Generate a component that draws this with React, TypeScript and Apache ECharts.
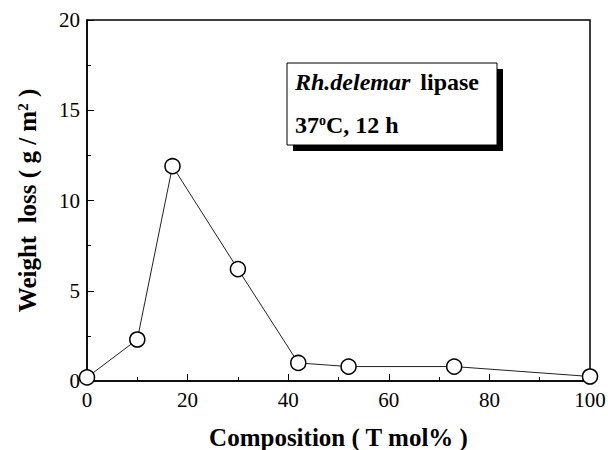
import React, { useEffect, useRef } from "react";
import * as echarts from "echarts";

const composition = [0, 10, 17, 30, 42, 52, 73, 100];
const weightLoss = [0.2, 2.3, 11.9, 6.2, 1.0, 0.8, 0.8, 0.25];
const xTicks = [0, 20, 40, 60, 80, 100];
const yTicks = [0, 5, 10, 15, 20];

const FONT = "Liberation Serif";

export default function App() {
  const ref = useRef<HTMLDivElement>(null);
  useEffect(() => {
    if (!ref.current) return;
    const chart = echarts.init(ref.current, undefined, { renderer: "svg" });
    chart.setOption({
      animation: false,
      backgroundColor: "#fff",
      textStyle: { fontFamily: FONT },
      grid: {
        left: 87,
        right: 18,
        top: 20,
        bottom: 69,
        show: true,
        borderColor: "#000",
        borderWidth: 1.5,
        outerBoundsMode: "none",
        containLabel: false,
      },
      xAxis: {
        type: "value",
        min: xTicks[0],
        max: xTicks[xTicks.length - 1],
        interval: 20,
        name: "Composition ( T mol% )",
        nameLocation: "middle",
        nameGap: 44,
        nameTextStyle: { fontFamily: FONT, fontWeight: "bold", fontSize: 25, color: "#000" },
        axisLine: { show: true, lineStyle: { color: "#000", width: 1.5 } },
        axisTick: { show: true, inside: true, length: 7, lineStyle: { color: "#000", width: 1 } },
        minorTick: { show: true, splitNumber: 2, length: 4, lineStyle: { color: "#000", width: 1 } },
        axisLabel: { fontFamily: FONT, fontSize: 21, color: "#000", margin: 8 },
        splitLine: { show: false },
      },
      yAxis: {
        type: "value",
        min: yTicks[0],
        max: yTicks[yTicks.length - 1],
        interval: 5,
        name: "{t|Weight  loss ( g / m}{s|2}{t| )}",
        nameLocation: "middle",
        nameGap: 47,
        nameRotate: 90,
        nameTextStyle: {
          fontFamily: FONT,
          color: "#000",
          rich: {
            t: { fontFamily: FONT, fontWeight: "bold", fontSize: 25, color: "#000" },
            s: { fontFamily: FONT, fontWeight: "bold", fontSize: 15, color: "#000", verticalAlign: "top", padding: [0, 0, 10, 0] },
          },
        },
        axisLine: { show: true, lineStyle: { color: "#000", width: 1.5 } },
        axisTick: { show: true, inside: true, length: 7, lineStyle: { color: "#000", width: 1 } },
        minorTick: { show: true, splitNumber: 2, length: 4, lineStyle: { color: "#000", width: 1 } },
        axisLabel: { fontFamily: FONT, fontSize: 21, color: "#000", margin: 7 },
        splitLine: { show: false },
      },
      series: [
        {
          type: "line",
          data: composition.map((c, i) => [c, weightLoss[i]]),
          symbol: "circle",
          symbolSize: 15,
          lineStyle: { color: "#222", width: 1 },
          itemStyle: { color: "#fff", borderColor: "#000", borderWidth: 1.5 },
          z: 3,
        },
      ],
      graphic: [
        {
          type: "rect",
          shape: { x: 293, y: 69, width: 210, height: 82 },
          style: { fill: "#000" },
          z: 10,
        },
        {
          type: "rect",
          shape: { x: 287, y: 63, width: 210, height: 82 },
          style: { fill: "#fff", stroke: "#000", lineWidth: 1 },
          z: 11,
        },
        {
          type: "text",
          x: 295,
          y: 82,
          z: 12,
          style: {
            text: "{i|Rh.delemar}   {b|lipase}",
            verticalAlign: "middle",
            rich: {
              i: { fontFamily: FONT, fontWeight: "bold", fontStyle: "italic", fontSize: 24, fill: "#000" },
              b: { fontFamily: FONT, fontWeight: "bold", fontSize: 24, fill: "#000" },
            },
          },
        },
        {
          type: "text",
          x: 295,
          y: 125,
          z: 12,
          style: {
            text: "{b|37}{s|o}{b|C, 12 h}",
            verticalAlign: "middle",
            rich: {
              b: { fontFamily: FONT, fontWeight: "bold", fontSize: 24, fill: "#000" },
              s: { fontFamily: FONT, fontWeight: "bold", fontSize: 14, fill: "#000", verticalAlign: "top", padding: [0, 0, 10, 0] },
            },
          },
        },
      ],
    });
    return () => chart.dispose();
  }, []);
  return <div ref={ref} style={{ width: 608, height: 450, position: "absolute", left: 0, top: 0 }} />;
}
